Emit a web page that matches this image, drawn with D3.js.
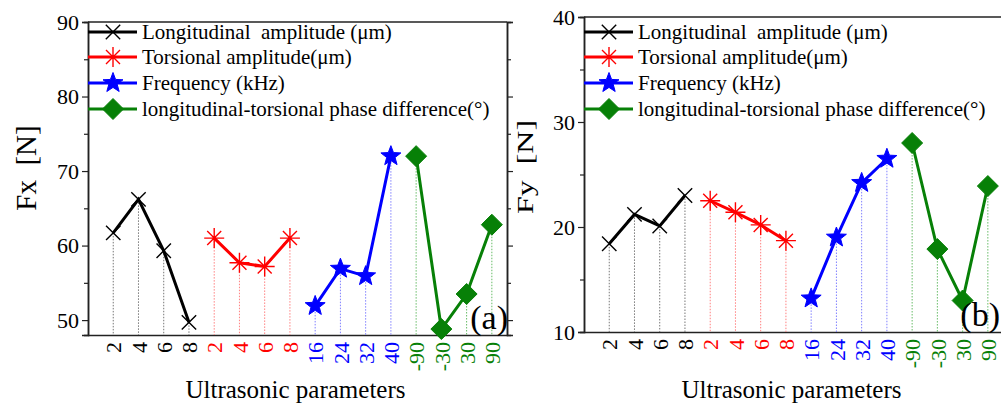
<!DOCTYPE html>
<html>
<head>
<meta charset="utf-8">
<script src="https://cdn.jsdelivr.net/npm/d3@7"></script>
<style>
    body { margin: 0; background: #fff; }
    svg { display: block; font-family: "Liberation Serif", "DejaVu Serif", serif; }
</style>
</head>
<body>
<svg id="chart" width="1001" height="408"></svg>
<script>
'use strict';

// x categories (4 groups of 4)
var categories = ["2", "4", "6", "8", "2", "4", "6", "8", "16", "24", "32", "40", "-90", "-30", "30", "90"];
var seriesNames = ["Longitudinal  amplitude (\u03bcm)", "Torsional amplitude(\u03bcm)", "Frequency (kHz)", "longitudinal-torsional phase difference(\u00b0)"];
var seriesColors = ["#000000", "#ff0000", "#0000ff", "#078007"];
var dropColors = ["#777777", "#ff8080", "#8080ff", "#66bb66"];

// panel (a) Fx [N]
var fxLongitudinal = [61.7, 66.2, 59.3, 49.7];
var fxTorsional = [61.0, 57.7, 57.2, 61.0];
var fxFrequency = [51.9, 56.9, 55.9, 72.0];
var fxPhase = [72.0, 48.8, 53.5, 62.8];
var fxMajorTicks = [50, 60, 70, 80, 90];
var fxMinorTicks = [55, 65, 75, 85];

// panel (b) Fy [N]
var fyLongitudinal = [18.4, 21.2, 20.1, 23.0];
var fyTorsional = [22.5, 21.4, 20.2, 18.7];
var fyFrequency = [13.2, 19.0, 24.2, 26.5];
var fyPhase = [28.0, 17.9, 13.0, 23.9];
var fyMajorTicks = [10, 20, 30, 40];
var fyMinorTicks = [15, 25, 35];

var svg = d3.select("#chart");

// marker shapes (size = half width)
var symX = {draw: function(c, s) { var r = s * 0.72; c.moveTo(-r, -r); c.lineTo(r, r); c.moveTo(-r, r); c.lineTo(r, -r); }};
var symAst = {draw: function(c, s) {
    var d = s * 0.7;
    c.moveTo(-s, 0); c.lineTo(s, 0); c.moveTo(0, -s); c.lineTo(0, s);
    c.moveTo(-d, -d); c.lineTo(d, d); c.moveTo(-d, d); c.lineTo(d, -d);
}};
var symStar = {draw: function(c, s) {
    var ri = s * 0.42;
    for (var i = 0; i < 10; i++) {
        var r = i % 2 ? ri : s;
        var a = -Math.PI / 2 + i * Math.PI / 5;
        if (i === 0) c.moveTo(r * Math.cos(a), r * Math.sin(a));
        else c.lineTo(r * Math.cos(a), r * Math.sin(a));
    }
    c.closePath();
}};
var symDiamond = {draw: function(c, s) { c.moveTo(0, -s); c.lineTo(s, 0); c.lineTo(0, s); c.lineTo(-s, 0); c.closePath(); }};
var markerTypes = [symX, symAst, symStar, symDiamond];
var markerSizes = [10, 10, 10.5, 10.5];
var markerFilled = [false, false, true, true];

function drawMarker(g, k, cx, cy) {
    g.append("path")
        .attr("transform", "translate(" + cx + "," + cy + ")")
        .attr("d", d3.symbol().type(markerTypes[k]).size(markerSizes[k])())
        .attr("fill", markerFilled[k] ? seriesColors[k] : "none")
        .attr("stroke", seriesColors[k])
        .attr("stroke-width", markerFilled[k] ? 1 : 1.4);
}

function drawPanel(p) {
    var g = svg.append("g");
    var x = d3.scaleLinear().domain([0, 16.6]).range([p.left, p.right]);
    var y = d3.scaleLinear().domain(p.yDomain).range([p.bottom, p.top]);

    // frame + axes
    g.append("g").attr("transform", "translate(" + p.left + ",0)")
        .call(d3.axisLeft(y).tickValues(p.major).tickSize(6).tickPadding(3).tickFormat(d3.format("d")))
        .call(function(a) {
            a.selectAll("text").attr("font-size", 22).attr("font-family", "Liberation Serif").attr("fill", "#000");
        });
    g.append("g").attr("transform", "translate(" + p.left + ",0)")
        .call(d3.axisLeft(y).tickValues(p.minor).tickSize(4).tickFormat(""));
    g.append("g").attr("transform", "translate(" + p.right + ",0)")
        .call(d3.axisRight(y).tickValues(p.major).tickSize(6).tickFormat(""));
    g.append("g").attr("transform", "translate(" + p.right + ",0)")
        .call(d3.axisRight(y).tickValues(p.minor).tickSize(4).tickFormat(""));
    g.append("line").attr("x1", p.left).attr("x2", p.right).attr("y1", p.top).attr("y2", p.top);

    var xAxis = g.append("g").attr("transform", "translate(0," + p.bottom + ")")
        .call(d3.axisBottom(x).tickValues(d3.range(1, categories.length + 1)).tickSize(0).tickPadding(0)
            .tickFormat(function(d) { return categories[d - 1]; }));
    xAxis.selectAll("text")
        .attr("font-size", 22).attr("font-family", "Liberation Serif")
        .attr("text-anchor", "end")
        .attr("transform", "rotate(-90)")
        .attr("x", -7).attr("y", 0).attr("dy", "0.35em")
        .attr("fill", function(d) { return seriesColors[Math.floor((d - 1) / 4)]; });

    g.selectAll(".domain, line").attr("stroke", "#222").attr("stroke-width", 1.5);
    g.selectAll(".tick line").attr("stroke-width", 1.2);

    // series
    p.series.forEach(function(vals, k) {
        var pts = vals.map(function(v, i) { return [x(k * 4 + i + 1), y(v)]; });
        g.selectAll(null).data(pts).enter().append("line")
            .attr("x1", function(d) { return d[0]; }).attr("x2", function(d) { return d[0]; })
            .attr("y1", function(d) { return d[1]; }).attr("y2", p.bottom)
            .attr("stroke", dropColors[k]).attr("stroke-width", 1).attr("stroke-dasharray", "1.5,1.5");
        g.append("path").attr("d", d3.line()(pts))
            .attr("fill", "none").attr("stroke", seriesColors[k]).attr("stroke-width", 3);
        pts.forEach(function(d) { drawMarker(g, k, d[0], d[1]); });
    });

    // legend
    var legendRows = [32, 57, 83, 109];
    seriesNames.forEach(function(name, k) {
        var ly = legendRows[k];
        g.append("line").attr("x1", p.left).attr("x2", p.left + 49).attr("y1", ly).attr("y2", ly)
            .attr("stroke", seriesColors[k]).attr("stroke-width", 3);
        drawMarker(g, k, p.left + 25, ly);
        g.append("text").attr("x", p.left + 54).attr("y", ly + 7)
            .attr("font-size", 21).attr("xml:space", "preserve").text(name);
    });

    // titles
    g.append("text")
        .attr("transform", "translate(" + p.titleX + "," + p.titleY + ") rotate(-90) scale(1," + p.titleSquash + ")")
        .attr("text-anchor", "middle").attr("font-size", p.titleSize).attr("xml:space", "preserve")
        .text(p.yTitle);
    g.append("text").attr("x", (p.left + p.right) / 2 - 2).attr("y", 398)
        .attr("text-anchor", "middle").attr("font-size", 25).text("Ultrasonic parameters");
    g.append("text").attr("x", Math.min(p.right + 1, 1000)).attr("y", p.bottom - 6)
        .attr("text-anchor", "end").attr("font-size", 34).text(p.tag);
}

drawPanel({
    left: 88, right: 507, top: 22, bottom: 335, yDomain: [48, 90],
    major: fxMajorTicks, minor: fxMinorTicks,
    series: [fxLongitudinal, fxTorsional, fxFrequency, fxPhase],
    yTitle: "Fx  [N]", titleX: 36, titleY: 168, titleSize: 29, titleSquash: 1, tag: "(a)"
});

drawPanel({
    left: 584, right: 1003, top: 17, bottom: 332, yDomain: [10, 40],
    major: fyMajorTicks, minor: fyMinorTicks,
    series: [fyLongitudinal, fyTorsional, fyFrequency, fyPhase],
    yTitle: "Fy  [N]", titleX: 533, titleY: 167, titleSize: 32, titleSquash: 0.7, tag: "(b)"
});
</script>
</body>
</html>
